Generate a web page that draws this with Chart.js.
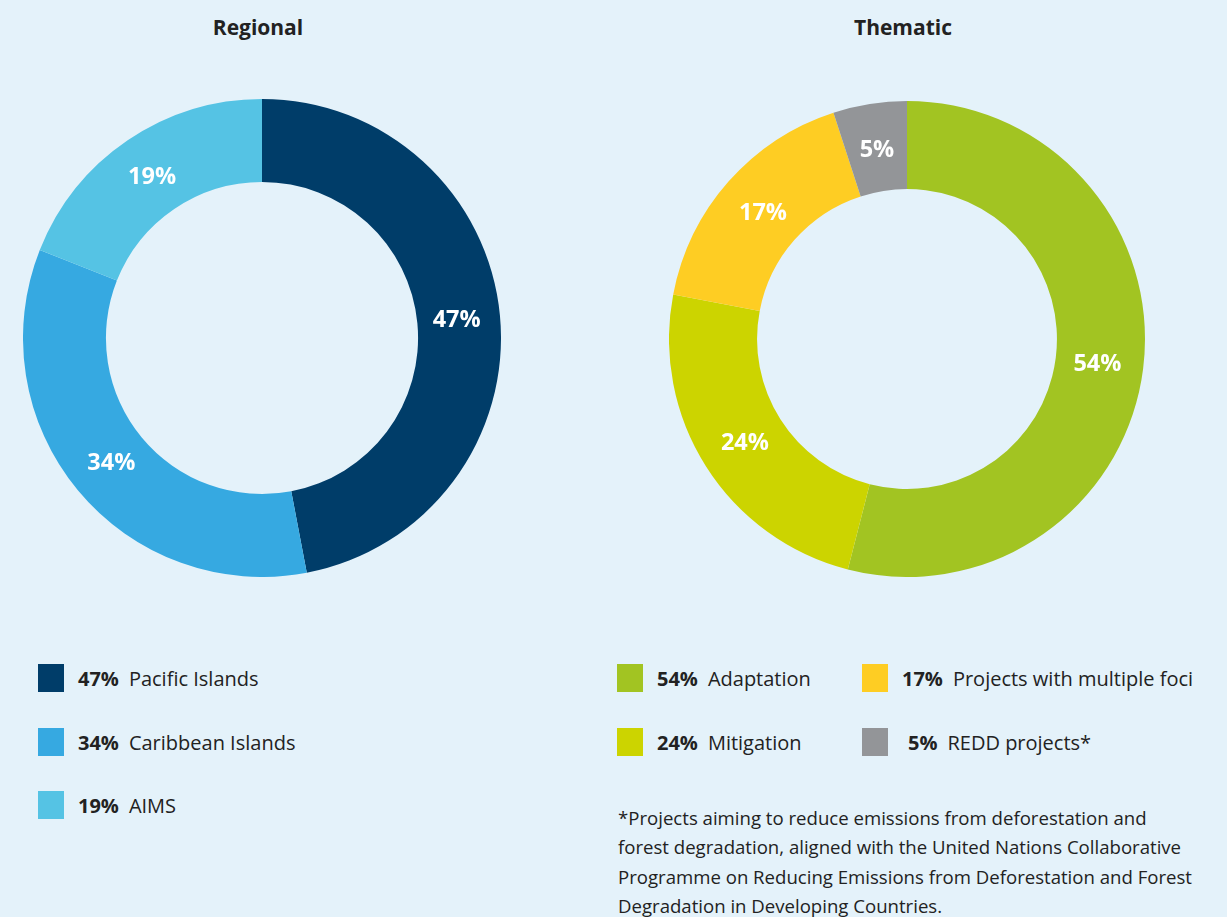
<!DOCTYPE html>
<html>
<head>
<meta charset="utf-8">
<script src="https://cdn.jsdelivr.net/npm/chart.js@4.4.0/dist/chart.umd.min.js"></script>
<style>
  html, body { margin:0; padding:0; }
  body { width:1227px; height:917px; background:#e4f2fa; position:relative; overflow:hidden; font-family:"Open Sans", sans-serif; color:#222; }
  .title { position:absolute; top:13px; font-weight:700; font-size:21px; color:#222; text-align:center; width:300px; }
  .cv { position:absolute; }
  .leg { position:absolute; display:flex; align-items:center; font-size:20px; color:#222; white-space:nowrap; }
  .leg .sw { width:26px; height:28px; margin-right:14px; flex:none; }
  .leg b { font-weight:700; margin-right:10px; }
  .note { position:absolute; left:618px; top:803px; width:600px; font-size:18.6px; line-height:29.3px; color:#222; white-space:nowrap; }
</style>
</head>
<body>
<div class="title" style="left:108px;">Regional</div>
<div class="title" style="left:753px;">Thematic</div>
<div class="cv" style="left:23px; top:99px; width:478px; height:478px;"><canvas id="c1"></canvas></div>
<div class="cv" style="left:669px; top:101px; width:476px; height:476px;"><canvas id="c2"></canvas></div>
<div id="legends"></div>
<div class="note">*Projects aiming to reduce emissions from deforestation and<br>forest degradation, aligned with the United Nations Collaborative<br>Programme on Reducing Emissions from Deforestation and Forest<br>Degradation in Developing Countries.</div>
<script>
const regionalLabels = ["Pacific Islands", "Caribbean Islands", "AIMS"];
const regionalValues = [47, 34, 19];
const regionalColors = ["#003d69", "#36a9e1", "#55c3e4"];

const thematicLabels = ["Adaptation", "Mitigation", "Projects with multiple foci", "REDD projects*"];
const thematicValues = [54, 24, 17, 5];
const thematicColors = ["#a2c422", "#ccd400", "#fecd23", "#939598"];

const sliceLabels = {
  id: "sliceLabels",
  afterDatasetsDraw(chart) {
    const ctx = chart.ctx;
    const meta = chart.getDatasetMeta(0);
    const vals = chart.data.datasets[0].data;
    ctx.save();
    ctx.fillStyle = "#ffffff";
    ctx.font = "700 23.5px 'Open Sans'";
    ctx.textAlign = "center";
    ctx.textBaseline = "middle";
    meta.data.forEach((arc, i) => {
      const p = arc.getProps(["x","y","startAngle","endAngle","innerRadius","outerRadius"], true);
      const a = (p.startAngle + p.endAngle) / 2;
      const r = (p.innerRadius + p.outerRadius) / 2 - 2;
      ctx.fillText(vals[i] + "%", p.x + Math.cos(a) * r, p.y + Math.sin(a) * r + 1);
    });
    ctx.restore();
  }
};

function makeDoughnut(id, labels, values, colors, cutout) {
  new Chart(document.getElementById(id), {
    type: "doughnut",
    data: { labels: labels, datasets: [{ data: values, backgroundColor: colors, borderWidth: 0 }] },
    options: {
      responsive: true, maintainAspectRatio: false, animation: false,
      cutout: cutout,
      layout: { padding: 0 },
      plugins: { legend: { display: false }, tooltip: { enabled: false } }
    },
    plugins: [sliceLabels]
  });
}
makeDoughnut("c1", regionalLabels, regionalValues, regionalColors, "65.3%");
makeDoughnut("c2", thematicLabels, thematicValues, thematicColors, "63%");

// legends
const legHost = document.getElementById("legends");
function addLeg(x, y, color, val, label, pctPad) {
  const d = document.createElement("div");
  d.className = "leg";
  d.style.left = x + "px";
  d.style.top = (y - 14) + "px";
  d.innerHTML = '<span class="sw" style="background:' + color + '"></span><b style="' + (pctPad || '') + '">' + val + '%</b><span>' + label + '</span>';
  legHost.appendChild(d);
}
const regRows = [678, 742, 805];
regionalLabels.forEach((l, i) => addLeg(38, regRows[i], regionalColors[i], regionalValues[i], l));
const themPos = [[617, 678], [617, 742], [862, 678], [862, 742]];
thematicLabels.forEach((l, i) => addLeg(themPos[i][0], themPos[i][1], thematicColors[i], thematicValues[i], l, i === 3 ? "margin-left:6px;" : ""));
</script>
</body>
</html>
